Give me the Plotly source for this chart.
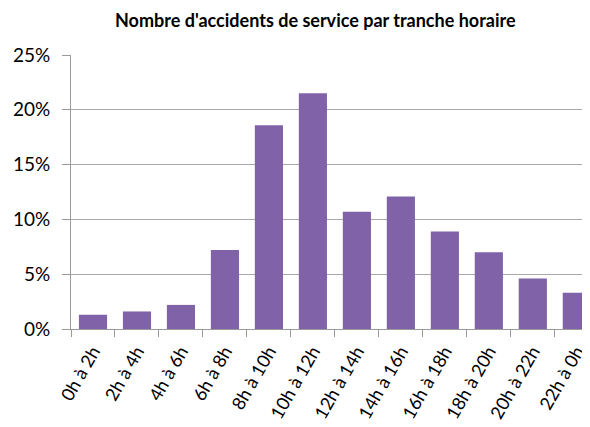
import plotly.graph_objects as go

tranches = ['0h à 2h', '2h à 4h', '4h à 6h', '6h à 8h', '8h à 10h', '10h à 12h',
            '12h à 14h', '14h à 16h', '16h à 18h', '18h à 20h', '20h à 22h', '22h à 0h']
parts = [0.013, 0.016, 0.022, 0.072, 0.186, 0.215, 0.107, 0.121, 0.089, 0.070, 0.046, 0.033]

fig = go.Figure()

fig.add_trace(go.Bar(x=tranches, y=parts, marker=dict(color='#7f62a8', line=dict(width=0)),
                     showlegend=False))

# the page body adds an 8px margin, so the figure is a bit smaller than the window
fig.update_layout(
    title=dict(text="<b>Nombre d'accidents de service par tranche horaire</b>",
               x=0.528, xanchor='center', y=0.97, yanchor='middle',
               font=dict(family='Lato', size=18, color='#000000')),
    width=582, height=419,
    margin=dict(l=63, r=0, t=47, b=98, autoexpand=False),
    paper_bgcolor='white', plot_bgcolor='white',
    bargap=0.36,
    font=dict(family='Lato', size=16, color='#000000'),
)

fig.update_xaxes(type='category', range=[-0.5, 11.3], tickangle=-60, tickson='boundaries',
                 ticks='outside', ticklen=7, tickcolor='#9a9a9a', automargin=False,
                 ticklabelstandoff=4,
                 showline=True, linecolor='#9a9a9a', linewidth=1, showgrid=False,
                 tickfont=dict(family='Lato', size=18))
fig.update_yaxes(range=[0, 0.25], dtick=0.05, tickformat='.0%', automargin=False,
                 ticks='outside', ticklen=8, tickcolor='#9a9a9a', ticklabelstandoff=8,
                 showline=True, linecolor='#9a9a9a', linewidth=1,
                 showgrid=True, gridcolor='#a8a8a8', gridwidth=1, zeroline=False,
                 tickfont=dict(family='Lato', size=19))

fig.write_html("out.html")
